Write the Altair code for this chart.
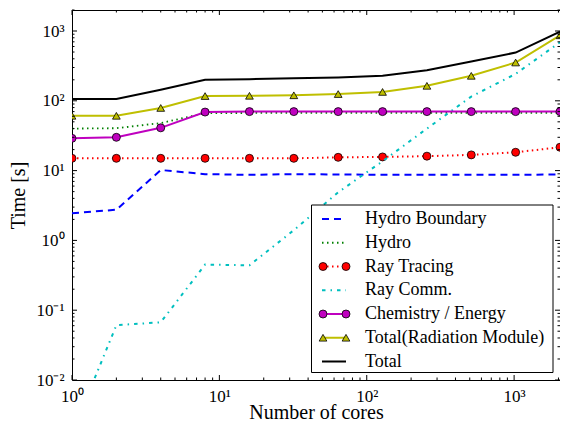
import math
import altair as alt
import pandas as pd

# ---------------- data ----------------
cores = [1, 2, 4, 8, 16, 32, 64, 128, 256, 512, 1024, 2048]
hydro_boundary = [2.45, 2.75, 10.2, 8.9, 8.7, 8.9, 8.8, 8.7, 8.7, 8.7, 8.7, 8.8]
hydro = [40, 40.5, 48, 66.5, 67, 67, 67, 67, 67, 67, 67, 67]
ray_tracing = [15.0, 15.0, 15.0, 15.0, 15.0, 15.0, 15.5, 15.7, 16.1, 16.8, 18.3, 21.6]
ray_comm = [0.0017, 0.061, 0.067, 0.45, 0.44, 1.4, 4.9, 13.6, 40, 115, 243, 690]
chemistry = [29, 30, 41, 69, 70, 70, 70, 70, 70, 70, 70, 70]
total_rad = [61, 61, 79, 117, 118, 120, 125, 134, 164, 228, 354, 868]
total = [106, 106, 144, 200, 204, 211, 216, 228, 275, 365, 491, 980]

series_names = ["Hydro Boundary", "Hydro", "Ray Tracing", "Ray Comm.",
                "Chemistry / Energy", "Total(Radiation Module)", "Total"]
series_values = [hydro_boundary, hydro, ray_tracing, ray_comm,
                 chemistry, total_rad, total]

x_major = [1, 10, 100, 1000]
x_labels = ["10⁰", "10¹", "10²", "10³"]
y_major = [0.01, 0.1, 1, 10, 100, 1000]
y_labels = ["10⁻²", "10⁻¹", "10⁰", "10¹", "10²", "10³"]
x_minor = [m * d for d in [1, 10, 100] for m in range(2, 10)] + [2000]
y_minor = [m * d for d in [0.01, 0.1, 1, 10, 100] for m in range(2, 10)] + [2000]

# ---------------- styles ----------------
FONT = "Liberation Serif"
W, H = 488, 370
styles = {
    "Hydro Boundary": dict(color="#0000ff", dash=[7, 5], width=2, marker=None),
    "Hydro": dict(color="#008000", dash=[1.5, 3.5], width=1.8, marker=None),
    "Ray Tracing": dict(color="#ff0000", dash=[1.5, 3.5], width=2, marker="circle"),
    "Ray Comm.": dict(color="#00bfbf", dash=[3.5, 5, 1.5, 5], width=2, marker=None),
    "Chemistry / Energy": dict(color="#bf00bf", dash=None, width=2, marker="circle"),
    "Total(Radiation Module)": dict(color="#bfbf00", dash=None, width=2, marker="triangle-up"),
    "Total": dict(color="#000000", dash=None, width=2, marker=None),
}

rows = []
for name, vals in zip(series_names, series_values):
    for c, v in zip(cores, vals):
        rows.append({"series": name, "cores": c, "time": v})
df = pd.DataFrame(rows)


def label_expr(values, labels):
    parts = []
    for v, lab in zip(values, labels):
        parts.append(f"round(log(datum.value)/LN10) == {round(math.log10(v))} ? '{lab}' : ")
    return "".join(parts) + "''"


x_scale = alt.Scale(type="log", domain=[1, 2048], nice=False)
y_scale = alt.Scale(type="log", domain=[0.01, 2000], nice=False)

x_axis = alt.Axis(values=x_major, labelExpr=label_expr(x_major, x_labels),
                  ticks=False, tickSize=0, domain=False, grid=False,
                  labelPadding=8, labelFont=FONT, labelFontSize=17, labelColor="black",
                  labelFlush=False, labelOverlap=False,
                  title="Number of cores", titleFont=FONT, titleFontSize=20,
                  titleFontWeight="normal", titleColor="black",
                  titleY=38, titleBaseline="alphabetic")
y_axis = alt.Axis(values=y_major, labelExpr=label_expr(y_major, y_labels),
                  ticks=False, tickSize=0, domain=False, grid=False,
                  labelPadding=8, labelFont=FONT, labelFontSize=17, labelColor="black",
                  labelFlush=False, labelOverlap=False, labelBaseline="middle",
                  title="Time [s]", titleFont=FONT, titleFontSize=20,
                  titleFontWeight="normal", titleColor="black",
                  titleX=-54, titleY=H / 2, titleAngle=270,
                  titleBaseline="middle", titleAlign="center")

X = alt.X("cores:Q", scale=x_scale, axis=x_axis)
Y = alt.Y("time:Q", scale=y_scale, axis=y_axis)

layers = []
for name in series_names:
    st = styles[name]
    base = alt.Chart(df).transform_filter(alt.datum.series == name)
    line_kw = dict(color=st["color"], strokeWidth=st["width"], clip=True)
    if st["dash"]:
        line_kw["strokeDash"] = st["dash"]
    layers.append(base.mark_line(**line_kw).encode(x=X, y=Y))
    if st["marker"]:
        size = 64 if st["marker"] == "circle" else 60
        layers.append(base.mark_point(shape=st["marker"], filled=True, fill=st["color"],
                                      stroke="black", strokeWidth=0.8, size=size,
                                      opacity=1, clip=True).encode(x=X, y=Y))

# inward ticks on all four sides
xmaj = pd.DataFrame({"cores": x_major})
xmin = pd.DataFrame({"cores": x_minor})
ymaj = pd.DataFrame({"time": y_major})
ymin = pd.DataFrame({"time": y_minor})
tick_kw = dict(color="black", strokeWidth=1)
for d, ln in [(xmaj, 5), (xmin, 2.5)]:
    layers.append(alt.Chart(d).mark_rule(**tick_kw).encode(
        x=X, y=alt.value(H), y2=alt.value(H - ln)))
    layers.append(alt.Chart(d).mark_rule(**tick_kw).encode(
        x=X, y=alt.value(0), y2=alt.value(ln)))
for d, ln in [(ymaj, 5), (ymin, 2.5)]:
    layers.append(alt.Chart(d).mark_rule(**tick_kw).encode(
        y=Y, x=alt.value(0), x2=alt.value(ln)))
    layers.append(alt.Chart(d).mark_rule(**tick_kw).encode(
        y=Y, x=alt.value(W), x2=alt.value(W - ln)))

main = alt.layer(*layers)

# ---------------- legend ----------------
LX = W - 7 - 241.5  # legend box left edge
leg_df = pd.DataFrame({"series": series_names})
LY = alt.Y("series:N", scale=alt.Scale(type="point", domain=series_names,
                                       range=[209, 351.5], padding=0), axis=None)
leg_layers = [
    alt.Chart(pd.DataFrame({"k": [0]})).mark_rect(fill="white", stroke="black",
                                                  strokeWidth=1).encode(
        x=alt.value(LX), x2=alt.value(LX + 241.5), y=alt.value(195), y2=alt.value(362.5))
]
for name in series_names:
    st = styles[name]
    base = alt.Chart(leg_df).transform_filter(alt.datum.series == name)
    kw = dict(color=st["color"], strokeWidth=st["width"])
    if st["dash"]:
        kw["strokeDash"] = st["dash"]
    leg_layers.append(base.mark_rule(**kw).encode(x=alt.value(LX + 10.5), x2=alt.value(LX + 34.5), y=LY))
    if st["marker"]:
        size = 64 if st["marker"] == "circle" else 60
        for xp in (LX + 11.5, LX + 34.5):
            leg_layers.append(base.mark_point(shape=st["marker"], filled=True, fill=st["color"],
                                              stroke="black", strokeWidth=0.8, size=size,
                                              opacity=1).encode(x=alt.value(xp), y=LY))
leg_layers.append(alt.Chart(leg_df).mark_text(align="left", baseline="middle", font=FONT,
                                              fontSize=18, color="black").encode(
    x=alt.value(LX + 53.5), y=LY, text="series:N"))
legend = alt.layer(*leg_layers)

chart = alt.layer(main, legend).resolve_scale(y="independent").properties(
    width=W, height=H,
    padding={"left": 64, "top": 2, "right": 0, "bottom": 42},
    autosize=alt.AutoSizeParams(type="none"),
    background="white",
).configure_view(stroke="black", strokeWidth=1)

chart.save("out.html", embed_options={"renderer": "svg", "actions": False})
